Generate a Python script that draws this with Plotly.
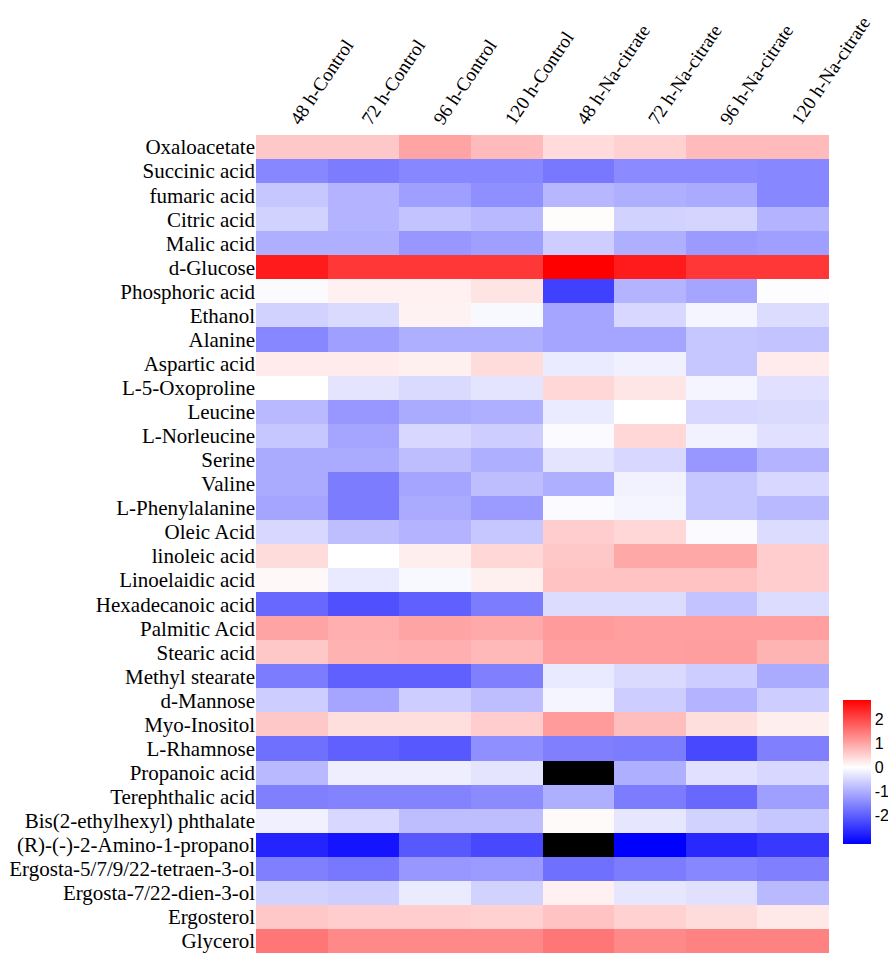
import plotly.graph_objects as go

# Column groups (time points / treatment)
samples = ['48 h-Control', '72 h-Control', '96 h-Control', '120 h-Control',
           '48 h-Na-citrate', '72 h-Na-citrate', '96 h-Na-citrate', '120 h-Na-citrate']

metabolites = ['Oxaloacetate', 'Succinic acid', 'fumaric acid', 'Citric acid', 'Malic acid',
               'd-Glucose', 'Phosphoric acid', 'Ethanol', 'Alanine', 'Aspartic acid',
               'L-5-Oxoproline', 'Leucine', 'L-Norleucine', 'Serine', 'Valine',
               'L-Phenylalanine', 'Oleic Acid', 'linoleic acid', 'Linoelaidic acid',
               'Hexadecanoic acid', 'Palmitic Acid', 'Stearic acid', 'Methyl stearate',
               'd-Mannose', 'Myo-Inositol', 'L-Rhamnose', 'Propanoic acid',
               'Terephthalic acid', 'Bis(2-ethylhexyl) phthalate',
               '(R)-(-)-2-Amino-1-propanol', 'Ergosta-5/7/9/22-tetraen-3-ol',
               'Ergosta-7/22-dien-3-ol', 'Ergosterol', 'Glycerol']

# scaled abundance, one row per metabolite (None = missing, drawn black)
z_vals = [
    [0.6, 0.6, 1.0, 0.75, 0.4, 0.5, 0.75, 0.75],
    [-1.5, -1.65, -1.5, -1.5, -1.7, -1.45, -1.45, -1.5],
    [-0.7, -0.95, -1.2, -1.4, -0.9, -1.0, -1.07, -1.5],
    [-0.56, -0.95, -0.75, -0.88, 0.03, -0.56, -0.54, -0.95],
    [-1.0, -1.0, -1.3, -1.2, -0.63, -1.0, -1.25, -1.2],
    [2.5, 2.2, 2.2, 2.2, 2.8, 2.5, 2.2, 2.2],
    [-0.06, 0.15, 0.15, 0.3, -2.4, -0.95, -1.13, -0.03],
    [-0.56, -0.46, 0.14, -0.09, -1.13, -0.5, -0.13, -0.44],
    [-1.5, -1.2, -1.0, -1.0, -1.13, -1.13, -0.7, -0.75],
    [0.22, 0.22, 0.16, 0.38, -0.25, -0.19, -0.7, 0.22],
    [0.0, -0.34, -0.46, -0.34, 0.44, 0.27, -0.13, -0.38],
    [-0.88, -1.3, -1.07, -1.0, -0.25, 0.0, -0.5, -0.46],
    [-0.7, -1.13, -0.5, -0.63, -0.06, 0.44, -0.16, -0.38],
    [-1.07, -1.07, -0.82, -1.0, -0.34, -0.5, -1.3, -0.95],
    [-1.07, -1.65, -1.13, -0.82, -1.0, -0.16, -0.7, -0.5],
    [-1.13, -1.65, -1.07, -1.25, -0.06, -0.13, -0.7, -0.88],
    [-0.5, -0.82, -0.95, -0.7, 0.55, 0.44, -0.06, -0.44],
    [0.38, 0.0, 0.19, 0.44, 0.6, 0.95, 0.95, 0.55],
    [0.08, -0.28, -0.09, 0.16, 0.66, 0.66, 0.66, 0.55],
    [-1.9, -2.2, -2.0, -1.65, -0.44, -0.44, -0.75, -0.44],
    [1.0, 0.88, 1.0, 0.93, 1.1, 1.05, 1.05, 1.05],
    [0.6, 0.85, 0.88, 0.77, 1.05, 1.05, 1.07, 0.82],
    [-1.65, -2.0, -2.0, -1.6, -0.28, -0.46, -0.63, -1.07],
    [-0.63, -1.13, -0.63, -0.82, -0.13, -0.63, -0.95, -0.63],
    [0.6, 0.36, 0.36, 0.55, 1.1, 0.71, 0.36, 0.19],
    [-1.8, -2.0, -2.1, -1.4, -1.6, -1.65, -2.3, -1.6],
    [-0.88, -0.21, -0.21, -0.34, None, -1.0, -0.38, -0.5],
    [-1.6, -1.55, -1.55, -1.45, -1.0, -1.65, -1.9, -1.2],
    [-0.19, -0.5, -0.82, -0.82, 0.05, -0.31, -0.56, -0.7],
    [-2.75, -2.95, -2.1, -2.3, None, -3.2, -2.7, -2.5],
    [-1.6, -1.7, -1.3, -1.25, -1.8, -1.65, -1.5, -1.6],
    [-0.56, -0.63, -0.25, -0.56, 0.15, -0.31, -0.38, -0.88],
    [0.6, 0.55, 0.55, 0.5, 0.66, 0.5, 0.38, 0.25],
    [1.5, 1.3, 1.3, 1.3, 1.5, 1.3, 1.37, 1.37],
]

cbar_ticks = [2, 1, 0, -1, -2]
cbar_labels = ['2', '1', '0', '-1', '-2']

zmin, zmax = -3.2, 2.8
mid = -zmin / (zmax - zmin)

# page body has an 8px margin, the figure sits at (8, 8)
W, H = 880, 951

fig = go.Figure(go.Heatmap(
    z=z_vals, x=samples, y=metabolites,
    zmin=zmin, zmax=zmax,
    colorscale=[[0, 'rgb(0,0,255)'], [mid, 'rgb(255,255,255)'], [1, 'rgb(255,0,0)']],
    xgap=0, ygap=0,
    colorbar=dict(
        xref='container', x=835 / W, xanchor='left', xpad=0,
        yref='container', y=1 - 805 / H, yanchor='top', ypad=0,
        len=144, lenmode='pixels',
        thickness=28, outlinewidth=0,
        tickvals=cbar_ticks, ticktext=cbar_labels, ticks='', ticklen=0,
        tickfont=dict(family='Liberation Sans, Arial', size=16, color='black'),
    ),
))

fig.update_layout(
    width=W, height=H,
    margin=dict(l=248, r=59, t=127, b=6, autoexpand=False),
    plot_bgcolor='black',
    paper_bgcolor='white',
    font=dict(family='Liberation Serif, Times New Roman', size=21, color='black'),
)
fig.update_xaxes(side='top', tickangle=-56, dtick=1, tickfont_size=19,
                 showgrid=False, zeroline=False, ticks='', showline=False)
fig.update_yaxes(autorange='reversed', dtick=1, showgrid=False, zeroline=False,
                 ticks='', showline=False)

fig.write_html("out.html")
